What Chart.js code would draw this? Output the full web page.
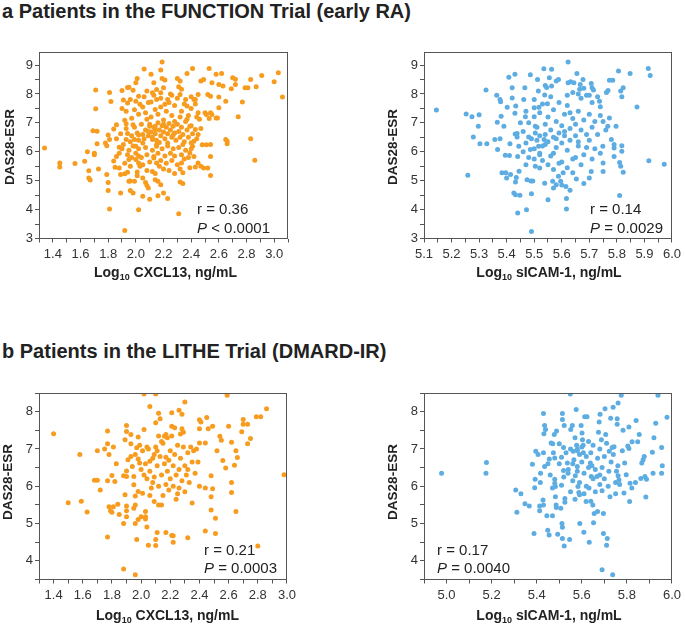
<!DOCTYPE html>
<html>
<head>
<meta charset="utf-8">
<script src="https://cdn.jsdelivr.net/npm/chart.js@4.4.1/dist/chart.umd.min.js"></script>
<style>
body { margin: 0; background: #fff; width: 685px; height: 625px; position: relative; overflow: hidden; font-family: "Liberation Sans", Arial, sans-serif; }
.head { position: absolute; left: 2px; font-weight: bold; font-size: 20px; line-height: 22px; color: #222; white-space: nowrap; }
canvas { position: absolute; }
</style>
</head>
<body>
<div class="head" style="top:0px">a Patients in the FUNCTION Trial (early RA)</div>
<div class="head" style="top:340px">b Patients in the LITHE Trial (DMARD-IR)</div>
<canvas id="a1" width="300" height="250" style="left:0px;top:40px"></canvas>
<canvas id="a2" width="305" height="250" style="left:380px;top:40px"></canvas>
<canvas id="b1" width="300" height="245" style="left:0px;top:380px"></canvas>
<canvas id="b2" width="305" height="245" style="left:380px;top:380px"></canvas>
<script>
// [log10 marker, DAS28-ESR] pairs
const functionCxcl13 = [
[1.34,6.13],[1.45,5.61],[1.45,5.47],[1.56,5.59],[1.63,5.67],[1.65,6.0],[1.66,5.34],[1.66,5.09],[1.67,5.02],[1.69,6.73],[1.71,7.49],[1.71,8.14],[1.70,5.95],[1.70,5.90],[1.72,6.71],[1.73,5.40],[1.72,6.28],[1.78,6.30],[1.79,6.21],[1.81,8.05],[1.82,7.74],[1.80,6.58],[1.81,6.42],[1.79,5.21],[1.80,4.94],[1.80,4.66],[1.81,4.02],[1.84,6.79],[1.86,6.93],[1.86,5.84],[1.84,5.68],[1.85,5.46],[1.88,6.16],[1.88,5.44],[1.89,5.21],[1.89,4.57],[1.92,3.28],[1.90,8.12],[1.94,8.22],[1.95,8.23],[1.91,7.79],[1.94,7.69],[1.96,7.81],[1.90,7.50],[1.93,7.40],[1.92,7.09],[1.93,6.97],[1.93,6.42],[1.94,6.63],[1.94,5.90],[1.95,5.73],[1.92,5.24],[1.94,5.29],[1.95,4.98],[1.96,4.99],[1.96,4.66],[1.98,4.57],[1.99,4.98],[2.02,3.99],[1.97,7.16],[1.98,6.93],[1.98,8.13],[2.00,8.39],[2.01,8.53],[2.06,8.86],[2.02,7.92],[2.03,7.64],[1.99,6.42],[2.00,6.19],[2.00,5.73],[2.02,5.61],[2.03,5.50],[2.01,5.30],[2.01,5.17],[2.05,5.09],[2.05,4.46],[2.07,4.94],[2.08,4.83],[2.09,4.75],[2.10,4.36],[2.11,8.68],[2.13,8.39],[2.12,8.04],[2.11,7.72],[2.07,7.35],[2.08,7.12],[2.10,6.88],[2.14,6.77],[2.19,9.10],[2.18,8.83],[2.19,8.53],[2.21,8.48],[2.20,8.21],[2.18,8.04],[2.23,7.81],[2.21,7.64],[2.15,7.81],[2.14,7.46],[2.12,6.42],[2.15,6.19],[2.13,5.84],[2.15,5.61],[2.12,5.32],[2.14,5.03],[2.16,4.98],[2.18,4.86],[2.20,4.57],[2.23,4.38],[2.16,4.48],[2.31,3.86],[2.32,4.95],[2.34,4.90],[2.30,8.53],[2.32,8.45],[2.31,8.25],[2.33,8.16],[2.32,7.98],[2.37,8.71],[2.41,8.88],[2.36,7.81],[2.37,7.58],[2.37,7.12],[2.39,6.88],[2.40,7.90],[2.42,7.81],[2.45,7.98],[2.43,7.81],[2.47,8.45],[2.49,8.50],[2.53,8.88],[2.55,8.39],[2.52,7.98],[2.54,7.92],[2.50,7.35],[2.51,7.29],[2.54,7.35],[2.55,7.29],[2.58,7.17],[2.53,7.15],[2.45,7.35],[2.46,7.12],[2.43,6.77],[2.45,6.60],[2.40,6.31],[2.42,6.36],[2.48,6.24],[2.51,6.24],[2.54,6.25],[2.41,6.19],[2.39,5.96],[2.42,5.84],[2.45,5.61],[2.43,5.47],[2.47,5.50],[2.49,5.44],[2.54,5.84],[2.52,5.44],[2.54,5.18],[2.33,5.61],[2.34,5.27],[2.58,8.68],[2.62,8.71],[2.60,8.33],[2.63,8.27],[2.60,7.89],[2.60,7.52],[2.59,7.17],[2.70,8.56],[2.72,8.33],[2.69,8.18],[2.72,8.51],[2.65,7.75],[2.65,6.42],[2.66,6.28],[2.66,6.36],[2.74,7.21],[2.77,7.72],[2.79,8.21],[2.81,8.21],[2.83,8.50],[2.87,8.25],[2.91,8.64],[2.83,6.45],[2.86,5.71],[3.00,8.42],[3.03,8.73],[3.06,7.89],
[2.02,7.30],[2.05,7.55],[2.09,7.70],[2.13,7.95],[2.16,7.30],[2.18,7.55],[2.22,7.40],[2.24,7.70],[2.26,7.25],[2.28,7.60],[2.30,7.85],[2.33,7.40],[2.35,7.65],[2.38,7.25],[2.40,7.50],[2.43,7.65],[2.26,7.95],[2.20,7.10],[2.11,7.20],[2.06,7.90],[2.00,7.75],[1.99,7.45],[2.28,7.05],[2.44,7.20],[2.36,7.05],[2.32,7.20],[2.18,7.85],[2.25,8.00],[2.15,8.15],[2.08,8.10],
[1.86,6.45],[1.89,6.62],[1.91,6.25],[1.93,6.80],[1.96,6.35],[1.97,6.55],[1.99,6.85],[2.01,6.65],[2.02,6.40],[2.04,6.95],[2.05,6.60],[2.06,6.45],[2.07,6.75],[2.09,6.55],[2.10,6.95],[2.11,6.68],[2.12,6.50],[2.13,6.85],[2.14,6.62],[2.15,6.40],[2.16,7.00],[2.17,6.75],[2.18,6.55],[2.19,6.90],[2.20,6.68],[2.21,6.45],[2.22,6.85],[2.23,6.62],[2.24,6.98],[2.25,6.75],[2.26,6.50],[2.27,6.88],[2.28,6.65],[2.29,6.40],[2.30,6.95],[2.31,6.70],[2.32,6.50],[2.33,6.85],[2.34,6.60],[2.35,6.35],[2.37,6.75],[2.38,6.50],[2.40,6.90],[2.41,6.62],[2.44,6.45],[2.47,6.80],[2.05,6.30],[2.17,6.32],[2.23,6.30],[2.09,6.70],[2.20,6.95],[2.14,6.88],[2.27,6.58],[2.02,6.58],
[1.88,5.95],[1.90,6.10],[1.92,5.60],[1.95,6.05],[1.97,5.80],[1.98,6.20],[2.00,5.95],[2.02,6.10],[2.04,5.80],[2.05,5.55],[2.07,6.15],[2.08,5.90],[2.10,5.65],[2.12,6.05],[2.13,5.78],[2.15,6.25],[2.16,5.95],[2.18,5.70],[2.19,6.10],[2.21,5.85],[2.22,5.60],[2.23,6.20],[2.25,5.95],[2.26,5.70],[2.27,6.10],[2.28,5.85],[2.30,5.55],[2.31,6.15],[2.33,5.90],[2.34,6.25],[2.35,5.75],[2.36,6.05],[2.38,5.80],[2.39,5.45],[2.40,6.10],[2.20,5.40],[2.24,5.35],[2.17,5.50],[2.08,5.35],[2.28,5.25],[2.02,5.85],[1.96,5.50],[2.32,5.40],[2.14,5.25]
];
const functionSicam = [
[5.145,7.44],[5.253,7.31],[5.259,5.19],[5.274,7.21],[5.279,6.51],[5.297,6.88],[5.30,7.28],[5.303,6.28],[5.325,8.14],[5.328,6.28],[5.357,6.42],[5.364,7.95],[5.367,6.08],[5.366,7.02],[5.376,7.81],[5.378,7.73],[5.383,5.27],[5.38,7.23],[5.376,6.45],[5.39,6.88],[5.395,5.88],[5.397,5.27],[5.40,5.09],[5.402,7.54],[5.408,8.58],[5.41,5.87],[5.412,6.28],[5.414,5.21],[5.42,8.21],[5.42,7.86],[5.43,8.68],[5.426,4.57],[5.43,7.33],[5.431,6.61],[5.435,5.11],[5.432,4.95],[5.432,4.51],[5.433,7.58],[5.44,3.88],[5.448,4.50],[5.445,5.33],[5.438,6.63],[5.438,6.51],[5.44,5.84],[5.444,6.19],[5.462,7.81],[5.466,8.21],[5.468,7.21],[5.47,5.55],[5.472,3.99],[5.474,5.03],[5.48,6.51],[5.486,6.08],[5.486,8.66],[5.488,4.99],[5.495,4.99],[5.49,3.24],[5.49,4.55],[5.50,7.81],[5.50,7.52],[5.50,7.21],[5.504,6.88],[5.504,6.65],[5.504,5.50],[5.512,8.50],[5.515,8.10],[5.517,7.54],[5.516,6.19],[5.52,5.44],[5.52,5.90],[5.535,8.87],[5.54,8.29],[5.538,7.96],[5.538,4.91],[5.536,6.42],[5.545,8.22],[5.548,7.66],[5.55,4.34],[5.555,8.56],[5.563,8.85],[5.563,8.27],[5.567,4.98],[5.57,4.75],[5.57,5.39],[5.58,8.45],[5.58,4.86],[5.588,8.50],[5.588,5.15],[5.596,4.98],[5.605,5.27],[5.60,4.85],[5.615,4.80],[5.617,4.38],[5.617,4.02],[5.623,9.10],[5.623,8.39],[5.63,4.67],[5.632,8.42],[5.644,8.39],[5.655,8.71],[5.64,5.27],[5.653,5.06],[5.665,8.16],[5.667,8.33],[5.677,8.50],[5.68,4.90],[5.70,5.09],[5.707,5.32],[5.707,8.36],[5.71,8.21],[5.715,8.14],[5.737,7.75],[5.74,7.56],[5.749,6.19],[5.75,5.32],[5.75,5.61],[5.762,8.05],[5.768,8.12],[5.773,8.47],[5.785,8.47],[5.767,6.88],[5.773,7.17],[5.78,6.42],[5.79,6.25],[5.79,6.13],[5.79,5.84],[5.797,6.88],[5.806,8.79],[5.814,8.10],[5.818,7.90],[5.81,5.63],[5.814,5.50],[5.818,6.21],[5.818,6.02],[5.81,4.49],[5.823,5.29],[5.823,8.21],[5.848,8.71],[5.873,7.55],[5.914,8.88],[5.921,8.64],[5.916,5.69],[5.972,5.57],
[5.46,6.70],[5.47,6.30],[5.48,7.00],[5.49,6.45],[5.50,6.10],[5.51,6.85],[5.52,6.55],[5.52,7.35],[5.53,6.20],[5.53,5.70],[5.54,6.95],[5.54,6.60],[5.55,7.20],[5.55,6.35],[5.56,5.85],[5.56,6.75],[5.57,7.45],[5.57,6.50],[5.58,6.15],[5.58,7.05],[5.59,6.65],[5.59,5.60],[5.60,6.90],[5.60,6.30],[5.61,7.30],[5.61,6.55],[5.62,6.05],[5.62,7.60],[5.63,6.80],[5.63,6.40],[5.64,7.15],[5.64,5.75],[5.65,6.95],[5.65,6.55],[5.66,7.40],[5.66,6.20],[5.67,7.85],[5.67,6.75],[5.68,7.10],[5.68,5.90],[5.69,6.60],[5.69,7.95],[5.70,7.30],[5.70,6.40],[5.71,6.85],[5.71,7.70],[5.72,6.10],[5.72,7.05],[5.73,6.60],[5.74,7.25],[5.50,5.75],[5.52,5.95],[5.55,5.55],[5.57,5.95],[5.60,5.65],[5.62,5.45],[5.65,5.80],[5.67,5.55],[5.53,7.65],[5.56,7.90],[5.59,7.70],[5.62,7.95],[5.64,8.05],[5.66,8.00],[5.68,8.20],[5.70,7.95],[5.45,7.00],[5.46,6.00],[5.47,7.40],[5.48,5.80],[5.51,6.40],[5.54,6.25],[5.58,6.45],[5.61,6.70],[5.63,7.35],[5.66,6.35],[5.69,6.15],[5.71,5.75],[5.73,7.90],[5.75,7.05],[5.76,6.75],[5.74,5.95]
];
const litheCxcl13 = [
[1.40,7.41],[1.50,5.56],[1.58,6.85],[1.59,5.60],[1.63,5.31],[1.68,6.16],[1.70,6.16],[1.70,6.95],[1.72,5.90],[1.75,7.00],[1.77,7.48],[1.77,7.14],[1.77,4.64],[1.77,6.15],[1.78,6.85],[1.80,6.29],[1.78,5.45],[1.79,5.34],[1.80,5.30],[1.81,5.45],[1.82,6.13],[1.81,7.05],[1.83,6.60],[1.84,5.52],[1.85,5.24],[1.88,6.28],[1.88,5.00],[1.88,3.78],[1.89,7.25],[1.89,5.77],[1.90,7.63],[1.90,7.47],[1.91,6.71],[1.90,6.41],[1.90,6.26],[1.90,5.47],[1.90,5.34],[1.90,5.18],[1.93,7.39],[1.93,7.14],[1.93,6.80],[1.94,6.53],[1.95,6.26],[1.95,6.04],[1.96,5.74],[1.96,5.50],[1.95,5.41],[1.96,5.00],[1.96,3.63],[1.98,7.32],[1.97,7.03],[1.98,6.73],[1.98,5.86],[1.98,5.11],[1.97,4.57],[1.99,6.62],[2.00,5.18],[2.01,5.81],[2.02,7.52],[2.02,8.47],[2.03,5.18],[2.03,5.32],[2.03,5.12],[2.04,7.05],[2.04,4.91],[2.05,4.42],[2.06,8.14],[2.06,6.67],[2.08,6.10],[2.09,5.59],[2.10,8.47],[2.10,7.70],[2.10,4.57],[2.10,4.41],[2.11,4.76],[2.12,7.96],[2.13,7.81],[2.12,5.50],[2.14,5.50],[2.17,4.76],[2.16,7.34],[2.17,7.39],[2.17,6.78],[2.21,7.97],[2.21,7.61],[2.23,7.57],[2.21,4.68],[2.22,4.67],[2.22,4.50],[2.26,8.04],[2.28,7.93],[2.30,8.26],[2.29,7.45],[2.28,7.54],[2.32,4.62],[2.40,7.78],[2.41,7.72],[2.40,7.54],[2.40,7.16],[2.45,7.84],[2.46,7.54],[2.49,7.61],[2.44,7.16],[2.44,5.95],[2.44,4.80],[2.48,6.28],[2.48,5.72],[2.49,5.93],[2.48,5.36],[2.51,5.14],[2.51,4.73],[2.52,6.95],[2.54,7.34],[2.55,7.23],[2.56,6.69],[2.58,6.49],[2.59,8.44],[2.60,7.61],[2.62,7.18],[2.62,6.10],[2.62,5.83],[2.64,6.56],[2.65,6.95],[2.65,5.32],[2.66,6.77],[2.69,7.46],[2.70,7.79],[2.70,7.66],[2.73,7.66],[2.73,7.14],[2.75,7.28],[2.79,7.86],[2.82,7.86],[2.86,8.08],[2.80,4.40],[2.98,6.31],
[1.96,6.85],[1.99,7.10],[2.00,6.45],[2.01,6.95],[2.02,6.30],[2.03,6.60],[2.04,6.20],[2.05,7.00],[2.06,6.40],[2.07,5.95],[2.08,6.75],[2.09,6.25],[2.10,7.05],[2.11,6.55],[2.12,6.00],[2.12,7.35],[2.13,6.80],[2.14,6.30],[2.15,5.75],[2.15,7.15],[2.16,6.60],[2.17,6.05],[2.18,7.30],[2.18,6.40],[2.19,5.90],[2.20,6.95],[2.20,6.20],[2.21,7.35],[2.22,6.55],[2.22,6.00],[2.23,6.85],[2.24,6.30],[2.24,5.65],[2.25,7.10],[2.26,6.45],[2.26,5.95],[2.27,6.75],[2.28,6.15],[2.29,7.05],[2.30,6.55],[2.30,5.85],[2.31,6.30],[2.32,6.90],[2.33,6.10],[2.34,7.05],[2.35,6.65],[2.35,5.55],[2.36,6.95],[2.37,6.35],[2.38,7.00],[2.39,6.65],[2.40,6.00],[2.11,6.95],[2.14,7.20],[2.19,6.70],[2.06,5.75],[2.27,7.40],[2.32,6.45],[2.25,5.80],[2.09,6.85]
];
const litheSicam = [
[4.978,6.35],[5.177,6.64],[5.175,6.35],[5.307,5.90],[5.312,5.30],[5.33,5.80],[5.348,5.53],[5.367,5.47],[5.381,6.59],[5.388,4.73],[5.393,6.19],[5.391,5.96],[5.396,6.94],[5.406,6.85],[5.413,5.47],[5.413,5.34],[5.416,6.10],[5.417,6.35],[5.428,5.63],[5.43,5.50],[5.43,7.95],[5.432,7.41],[5.435,7.63],[5.439,7.52],[5.43,6.90],[5.435,6.53],[5.445,5.21],[5.449,4.82],[5.455,4.69],[5.456,6.73],[5.464,7.16],[5.47,5.21],[5.471,7.14],[5.474,6.90],[5.478,7.39],[5.48,6.76],[5.48,6.19],[5.48,6.08],[5.483,5.99],[5.483,5.72],[5.486,5.50],[5.487,5.43],[5.488,7.48],[5.493,4.71],[5.50,7.14],[5.51,6.78],[5.507,5.41],[5.51,6.03],[5.514,7.95],[5.514,7.79],[5.512,5.00],[5.514,4.90],[5.514,4.60],[5.522,4.40],[5.519,6.42],[5.519,7.04],[5.522,7.63],[5.525,5.67],[5.525,5.57],[5.536,6.62],[5.539,6.35],[5.546,4.57],[5.549,8.47],[5.551,7.52],[5.558,7.63],[5.562,6.94],[5.565,6.71],[5.571,6.28],[5.575,8.06],[5.577,7.10],[5.58,6.99],[5.58,6.53],[5.583,5.99],[5.587,5.83],[5.59,5.77],[5.591,5.00],[5.597,7.63],[5.601,7.43],[5.603,7.25],[5.606,7.10],[5.607,6.90],[5.609,4.77],[5.613,7.86],[5.623,7.86],[5.619,5.59],[5.632,5.95],[5.633,4.50],[5.638,6.62],[5.645,6.55],[5.642,6.26],[5.649,5.50],[5.652,5.02],[5.655,5.27],[5.667,6.26],[5.67,5.32],[5.674,7.45],[5.677,7.72],[5.681,7.93],[5.687,7.25],[5.696,4.73],[5.69,3.76],[5.69,5.88],[5.696,5.27],[5.703,8.08],[5.706,7.39],[5.71,4.42],[5.713,4.60],[5.717,6.00],[5.722,6.94],[5.725,5.72],[5.728,7.82],[5.735,7.04],[5.737,3.63],[5.739,8.12],[5.743,7.06],[5.75,5.80],[5.757,7.81],[5.757,7.66],[5.761,8.23],[5.754,6.40],[5.761,6.28],[5.765,6.17],[5.768,6.05],[5.775,8.44],[5.783,7.50],[5.787,5.82],[5.79,6.62],[5.797,6.31],[5.804,7.08],[5.809,7.01],[5.812,5.59],[5.809,7.59],[5.814,6.08],[5.822,5.95],[5.823,7.19],[5.841,7.76],[5.838,6.10],[5.848,7.19],[5.855,7.39],[5.862,6.21],[5.866,6.62],[5.872,6.71],[5.877,6.80],[5.88,6.26],[5.884,5.71],[5.887,6.19],[5.913,6.91],[5.92,7.30],[5.916,6.35],[5.928,7.69],[5.938,8.44],[5.954,7.04],[5.957,6.55],[5.954,6.35],[5.978,7.85],
[5.53,6.90],[5.54,6.45],[5.55,7.00],[5.56,6.15],[5.56,6.60],[5.57,7.30],[5.58,6.40],[5.59,6.85],[5.59,6.10],[5.60,6.65],[5.60,7.05],[5.61,6.35],[5.62,6.80],[5.62,6.00],[5.63,7.20],[5.63,6.50],[5.64,6.90],[5.65,6.20],[5.65,7.10],[5.66,6.45],[5.66,5.85],[5.67,6.75],[5.68,6.05],[5.68,7.00],[5.69,6.50],[5.70,6.80],[5.70,6.20],[5.71,7.15],[5.72,6.40],[5.73,6.65],[5.55,5.85],[5.57,5.65],[5.58,6.95],[5.52,6.25],[5.50,6.60],[5.46,6.30],[5.47,5.95],[5.45,6.60],[5.61,5.80],[5.64,5.60],[5.74,6.85],[5.76,6.55],[5.78,6.95],[5.75,6.10],[5.68,6.30]
];

const ORANGE = "#F79C1E";
const BLUE = "#5DADE2";
const FONT = '"Liberation Sans", Arial, sans-serif';

// frame, axis titles and correlation text
const panelText = {
    id: "panelText",
    afterDraw(chart, args, o) {
        const ctx = chart.ctx;
        const a = chart.chartArea;
        ctx.save();
        ctx.strokeStyle = "#555";
        ctx.lineWidth = 1;
        ctx.strokeRect(Math.round(a.left) + 0.5, Math.round(a.top) + 0.5,
            Math.round(a.right - a.left) - 1, Math.round(a.bottom - a.top) - 1);

        ctx.fillStyle = "#222";
        ctx.font = "bold 13.5px " + FONT;
        ctx.save();
        ctx.translate(o.yTitleX, o.yTitleY);
        ctx.rotate(-Math.PI / 2);
        ctx.textAlign = "center";
        ctx.textBaseline = "middle";
        ctx.fillText("DAS28-ESR", 0, 0);
        ctx.restore();

        const big = "bold 14px " + FONT;
        const small = "bold 9px " + FONT;
        ctx.textAlign = "left";
        ctx.textBaseline = "alphabetic";
        ctx.font = big;
        const w1 = ctx.measureText("Log").width;
        const w3 = ctx.measureText(" " + o.xTitle).width;
        ctx.font = small;
        const w2 = ctx.measureText("10").width;
        let x = o.xTitleX - (w1 + w2 + w3) / 2;
        ctx.font = big; ctx.fillText("Log", x, o.xTitleY); x += w1;
        ctx.font = small; ctx.fillText("10", x, o.xTitleY + 3); x += w2;
        ctx.font = big; ctx.fillText(" " + o.xTitle, x, o.xTitleY);

        ctx.font = "15px " + FONT;
        ctx.fillText(o.r, o.statX, o.statY);
        ctx.font = "italic 15px " + FONT;
        ctx.fillText("P", o.statX, o.statY2);
        const pw = ctx.measureText("P").width;
        ctx.font = "15px " + FONT;
        ctx.fillText(o.p, o.statX + pw, o.statY2);
        ctx.restore();
    }
};

function makePanel(id, pts, color, c, area, xr, yr, txt) {
    const labelStep = Math.round(xr.labelEvery * 100);
    new Chart(document.getElementById(id), {
        type: "scatter",
        data: {
            datasets: [{
                data: pts.map(p => ({ x: p[0], y: p[1] })),
                backgroundColor: color,
                borderWidth: 0,
                pointRadius: 2.5,
                pointHoverRadius: 2.5
            }]
        },
        plugins: [panelText],
        options: {
            responsive: false,
            animation: false,
            devicePixelRatio: 1,
            events: [],
            layout: { padding: { left: 0, top: area.top - c.top, right: c.left + c.w - area.right, bottom: 0 } },
            plugins: {
                legend: { display: false },
                tooltip: { enabled: false },
                panelText: {
                    yTitleX: txt.yTitleX - c.left, yTitleY: txt.yTitleY - c.top,
                    xTitle: txt.xTitle, xTitleX: (area.left + area.right) / 2 + txt.xShift - c.left, xTitleY: txt.xTitleY - c.top,
                    r: txt.r, p: txt.p, statX: txt.statX - c.left, statY: txt.statY - c.top, statY2: txt.statY2 - c.top
                }
            },
            scales: {
                x: {
                    type: "linear",
                    min: xr.min, max: xr.max,
                    afterFit(s) { s.height = c.top + c.h - area.bottom; },
                    border: { display: false },
                    grid: { drawOnChartArea: false, tickLength: 4, color: "#555" },
                    ticks: {
                        stepSize: xr.step, autoSkip: false, maxRotation: 0, includeBounds: false,
                        maxTicksLimit: 100, padding: 4, color: "#333", font: { family: FONT, size: 13 },
                        callback(v) {
                            return Math.round(v * 100) % labelStep === 0 ? v.toFixed(1) : "";
                        }
                    }
                },
                y: {
                    min: yr.min, max: yr.max,
                    afterFit(s) { s.width = area.left - c.left; },
                    border: { display: false },
                    grid: { drawOnChartArea: false, tickLength: 4, color: "#555" },
                    ticks: {
                        stepSize: 0.5, autoSkip: false, includeBounds: false, maxTicksLimit: 100,
                        padding: 2, color: "#333", font: { family: FONT, size: 13 },
                        callback(v) { return Math.abs(v - Math.round(v)) < 1e-6 ? String(Math.round(v)) : ""; }
                    }
                }
            }
        }
    });
}

makePanel("a1", functionCxcl13, ORANGE,
    { left: 0, top: 40, w: 300, h: 250 }, { left: 39, top: 52, right: 288, bottom: 238.5 },
    { min: 1.3, max: 3.1, step: 0.1, labelEvery: 0.2 }, { min: 3, max: 9.45 },
    { yTitleX: 10, yTitleY: 147, xTitle: "CXCL13, ng/mL", xShift: 2, xTitleY: 277, r: "r = 0.36", p: " < 0.0001", statX: 197, statY: 213.5, statY2: 233 });
makePanel("a2", functionSicam, BLUE,
    { left: 380, top: 40, w: 305, h: 250 }, { left: 424, top: 52, right: 674, bottom: 238.5 },
    { min: 5.1, max: 6.0, step: 0.05, labelEvery: 0.1 }, { min: 3, max: 9.45 },
    { yTitleX: 393, yTitleY: 147, xTitle: "sICAM-1, ng/mL", xShift: 0, xTitleY: 277, r: "r = 0.14", p: " = 0.0029", statX: 590, statY: 213.5, statY2: 233 });
makePanel("b1", litheCxcl13, ORANGE,
    { left: 0, top: 380, w: 300, h: 245 }, { left: 39, top: 393, right: 288, bottom: 579.5 },
    { min: 1.3, max: 3.0, step: 0.1, labelEvery: 0.2 }, { min: 3.5, max: 8.5 },
    { yTitleX: 8, yTitleY: 482, xTitle: "CXCL13, ng/mL", xShift: 4, xTitleY: 619.5, r: "r = 0.21", p: " = 0.0003", statX: 204, statY: 554.5, statY2: 572.5 });
makePanel("b2", litheSicam, BLUE,
    { left: 380, top: 380, w: 305, h: 245 }, { left: 424, top: 393, right: 674, bottom: 579.5 },
    { min: 4.9, max: 6.0, step: 0.1, labelEvery: 0.2 }, { min: 3.5, max: 8.5 },
    { yTitleX: 393, yTitleY: 482, xTitle: "sICAM-1, ng/mL", xShift: 0, xTitleY: 619.5, r: "r = 0.17", p: " = 0.0040", statX: 437, statY: 554.5, statY2: 572.5 });
</script>
</body>
</html>
